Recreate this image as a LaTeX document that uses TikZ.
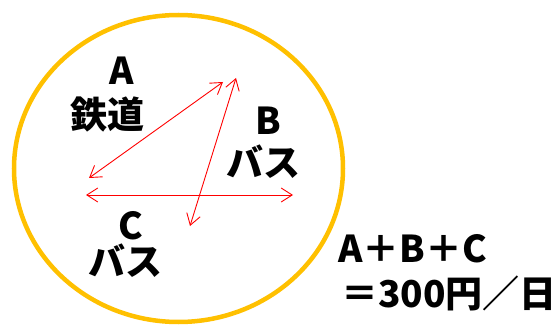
\documentclass[tikz,border=0pt]{standalone}
\usepackage{fontspec}
\newfontfamily\jpfont{Noto Sans CJK JP}
\usetikzlibrary{arrows.meta}
\definecolor{ringgold}{HTML}{FFC000}
\definecolor{linkred}{HTML}{FF0000}

\begin{document}
\begin{tikzpicture}[x=1pt, y=-1pt,
  label/.style={text=black, font=\jpfont\bfseries\fontsize{37}{40}\selectfont, inner sep=0pt},
  route/.style={linkred, line width=0.9pt, {Straight Barb[length=11pt, width=14pt]}-{Straight Barb[length=11pt, width=14pt]}}]

\useasboundingbox (0,0) rectangle (560,326);

% Area ring
\draw[ringgold, line width=4.5pt] (178.5,168.5) ellipse (164.5 and 153.5);

% Zone labels
\node[label] (zoneA) at (122,71) {A};
\node[label] (railA) at (107,114) {鉄道};
\node[label] (zoneB) at (268,121) {B};
\node[label] (busB) at (263,162) {バス};
\node[label] (zoneC) at (131,226) {C};
\node[label] (busC) at (125,261) {バス};

% Route end points
\coordinate (ab1) at (89,178);
\coordinate (ab2) at (223,82);
\coordinate (bc1) at (236,78);
\coordinate (bc2) at (190,226);
\coordinate (ca1) at (86,195);
\coordinate (ca2) at (293,195);

% Routes
\draw[route] (ab1) -- (ab2);
\draw[route] (bc1) -- (bc2);
\draw[route] (ca1) -- (ca2);

% Total fare
\node[label, anchor=west] (sum) at (338,249) {A＋B＋C};
\node[label, anchor=west] (fare) at (341,293) {＝300円／日};

\end{tikzpicture}
\end{document}
